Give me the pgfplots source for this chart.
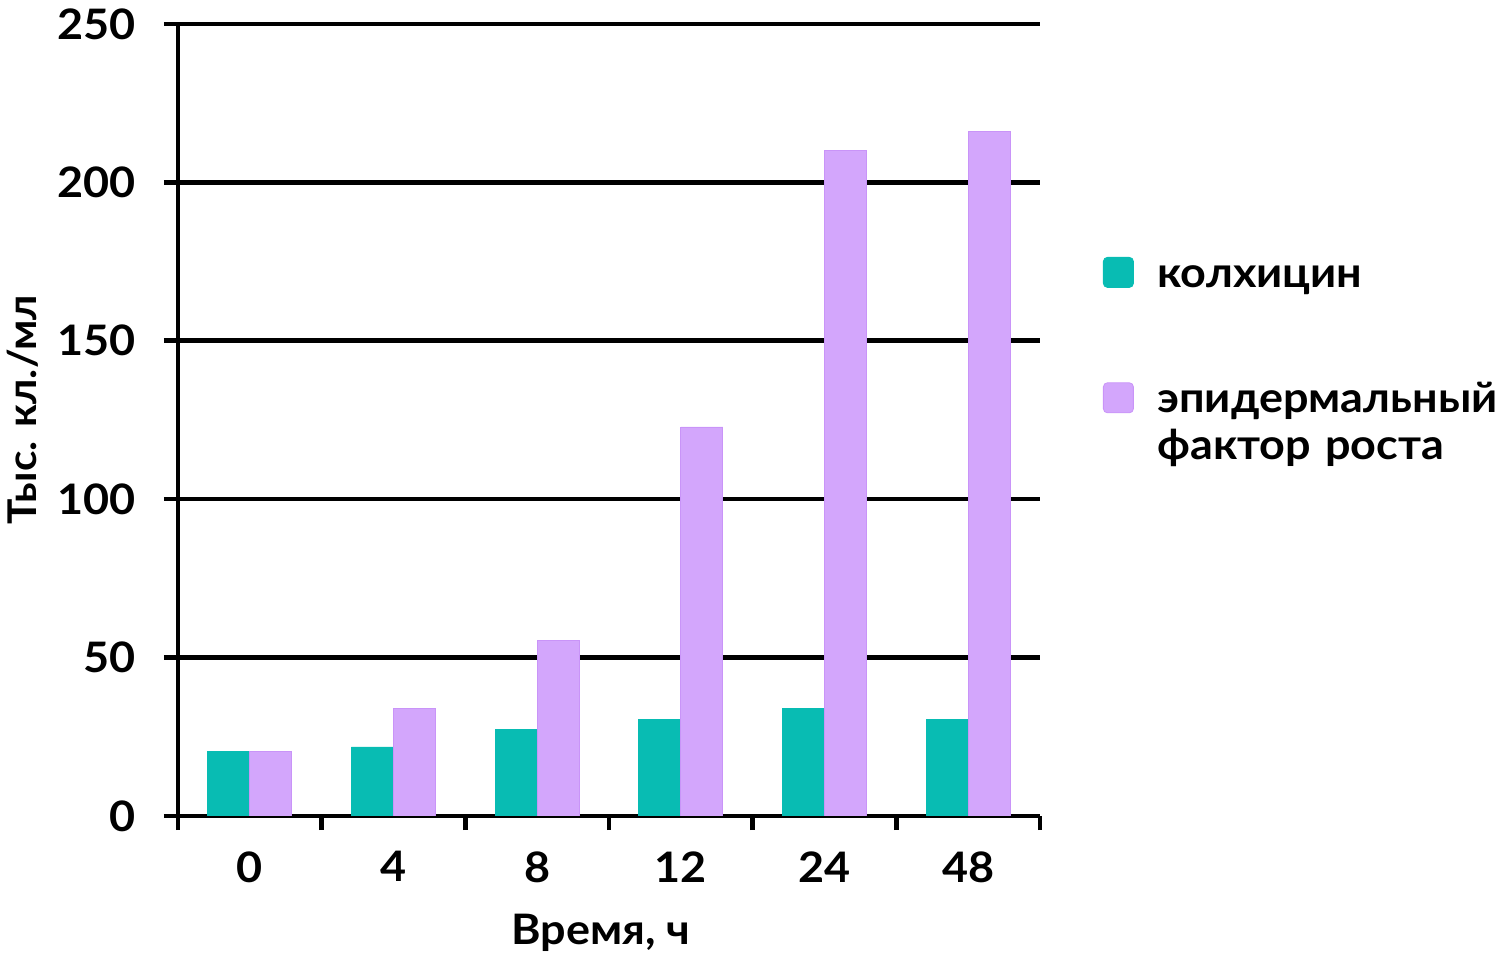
\documentclass[border=0pt]{standalone}
\usepackage{fontspec}
\setmainfont{Lato}[FakeStretch=1.07]
\usepackage{pgfplots}
\pgfplotsset{compat=1.18}
\definecolor{tealc}{HTML}{08BCB3}
\definecolor{purp}{HTML}{D3A6FC}
\definecolor{purpedge}{HTML}{C994F8}
\newcommand{\lblfont}{\fontsize{21}{25}\selectfont\bfseries}
\begin{document}
\begin{tikzpicture}
\path[use as bounding box] (0pt,0pt) rectangle (750pt,479pt);
\begin{axis}[
  at={(89pt,71pt)}, anchor=south west,
  scale only axis, width=431pt, height=396pt,
  xmin=-0.5, xmax=5.5, ymin=0, ymax=250,
  ybar=0pt, bar width=21pt,
  axis x line=bottom, axis y line=left,
  axis line style={-, line width=2.3pt, black},
  ytick={0,50,...,250},
  ymajorgrids, grid style={black, line width=2.3pt},
  xtick={-0.5,0.5,...,5.5}, xticklabels={},
  extra x ticks={0,1,2,3,4,5},
  extra x tick labels={0,4,8,12,24,48},
  extra x tick style={major tick length=0pt, grid=none},
  tick align=outside, major tick length=7pt,
  tick style={black, line width=2.3pt},
  /pgf/number format/assume math mode=true,
  ticklabel style={font=\lblfont},
  yticklabel style={anchor=east, inner sep=0pt, xshift=-14pt},
  xticklabel style={anchor=north, inner sep=0pt, yshift=-17.5pt},
  xlabel={Время, ч},
  xlabel style={at={(axis description cs:0.4907,0)}, anchor=base, yshift=-64.5pt, inner sep=0pt, font=\lblfont},
  ylabel={Тыс. кл./мл},
  ylabel style={at={(axis description cs:-0.16357,0.51326)}, anchor=base, inner sep=0pt, font=\fontsize{19.8}{24}\selectfont\bfseries},
  legend style={at={(axis description cs:1.07309,0.70581)}, anchor=north west, draw=none, fill=none, inner sep=0pt, outer sep=0pt, row sep=42.5pt, column sep=11.8pt,
    cells={anchor=base west},
    nodes={inner sep=0pt, text height=15pt, text depth=5pt, text width=200pt, align=left, font=\fontsize{21}{23.5}\selectfont\bfseries}},
  legend image code/.code={\draw[#1, rounded corners=2pt] (0pt,0pt) rectangle (15pt,15pt);},
]
\addplot[fill=tealc, draw=tealc, line width=0.4pt] coordinates {(0,20.3) (1,21.8) (2,27.2) (3,30.6) (4,34) (5,30.6)};
\addplot[fill=purp, draw=purpedge, line width=0.4pt] coordinates {(0,20.3) (1,34) (2,55.5) (3,122.8) (4,210) (5,216.2)};
\legend{колхицин, эпидермальный\\фактор роста}
\end{axis}
\end{tikzpicture}
\end{document}
